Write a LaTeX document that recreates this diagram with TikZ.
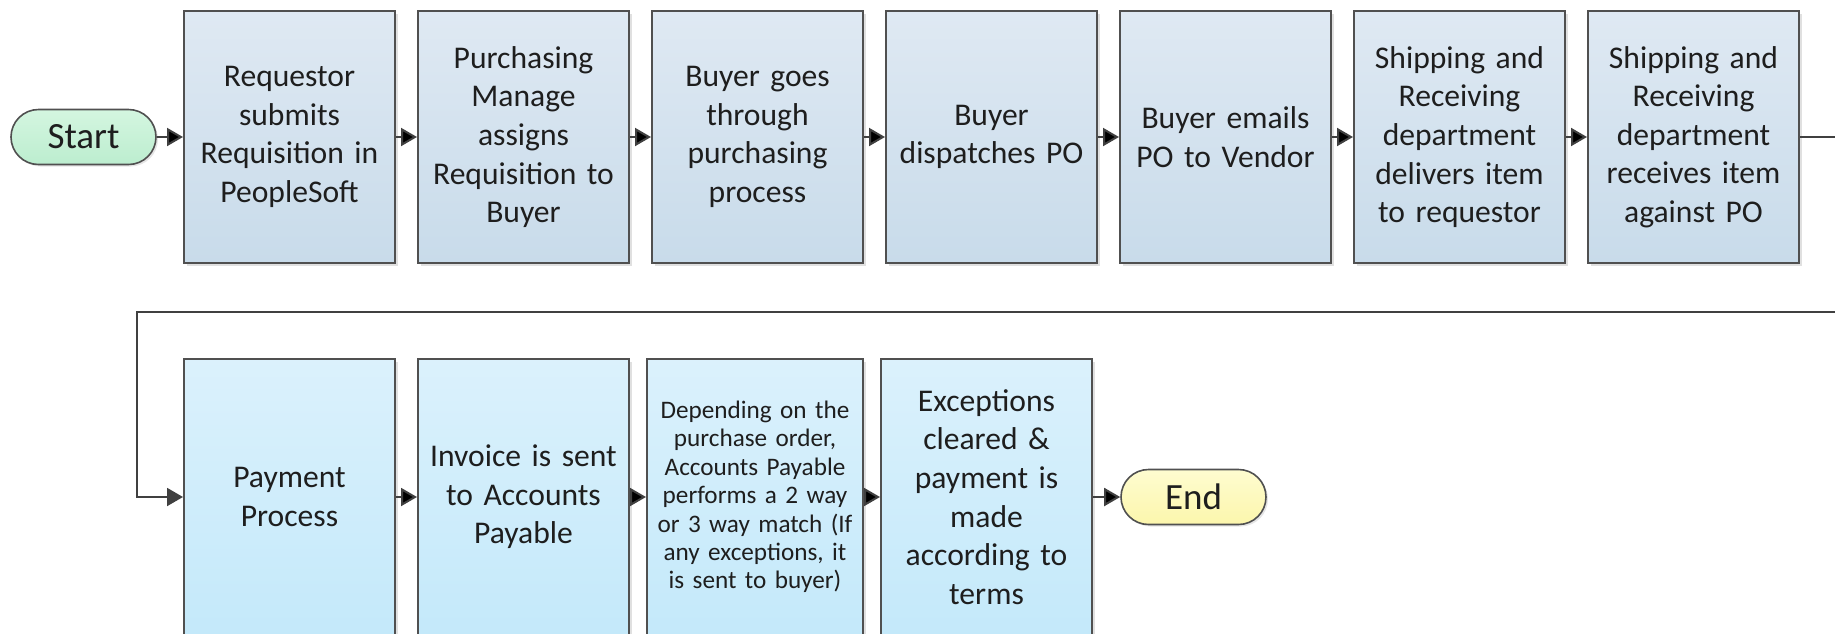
\documentclass[tikz,border=0pt]{standalone}
\usepackage{fontspec}
\setmainfont{Carlito}
\usepackage{xcolor}
\usetikzlibrary{positioning, calc, arrows.meta, shadows}
\definecolor{boxline}{RGB}{80,80,80}
\definecolor{arrowgray}{RGB}{64,64,64}
\definecolor{inkgray}{RGB}{30,30,30}
\definecolor{stepTop}{RGB}{223,233,243}
\definecolor{stepBot}{RGB}{200,219,234}
\definecolor{payTop}{RGB}{219,241,252}
\definecolor{payBot}{RGB}{196,233,250}
\definecolor{startTop}{RGB}{212,246,224}
\definecolor{startBot}{RGB}{188,237,207}
\definecolor{endTop}{RGB}{254,252,208}
\definecolor{endBot}{RGB}{252,246,172}
\tikzset{
    >={Triangle[length=8pt,width=9pt]}, % filled arrow heads
    node distance=117pt, % centre to centre distance of the boxes
    process/.style={draw=boxline, line width=1pt, rectangle, align=center, text=inkgray,
        text width=96pt, minimum width=105.5pt, inner sep=0pt,
        font=\fontsize{15.8}{19.3}\selectfont,
        drop shadow={shadow xshift=1.5pt, shadow yshift=-1.5pt, fill=black, opacity=0.12}},
    upper/.style={process, minimum height=126pt, top color=stepTop, bottom color=stepBot},
    lower/.style={process, minimum height=138pt, top color=payTop, bottom color=payBot},
    terminal/.style={draw=boxline, line width=0.8pt, rectangle, rounded corners=13.75pt,
        minimum width=72.5pt, minimum height=27.5pt, text=inkgray,
        font=\fontsize{18.5}{22}\selectfont,
        drop shadow={shadow xshift=1pt, shadow yshift=-1pt, fill=black, opacity=0.1}},
    link/.style={->, draw=arrowgray, line width=1pt},
}
\begin{document}
\begin{tikzpicture}
    \useasboundingbox (0,0) rectangle (917.5pt,-316.5pt);
    \clip (0,0) rectangle (917.5pt,-316.5pt);

    % first row
    \node[terminal, top color=startTop, bottom color=startBot] (start) at (41.75pt,-68.5pt) {Start};
    \node[upper, node distance=103pt, right of=start] (req) {Requestor\\submits\\Requisition in\\PeopleSoft};
    \node[upper, right of=req] (assign) {Purchasing\\Manage\\assigns\\Requisition to\\Buyer};
    \node[upper, right of=assign] (buy) {Buyer goes\\through\\purchasing\\process};
    \node[upper, right of=buy] (dispatch) {Buyer\\dispatches PO};
    \node[upper, right of=dispatch] (email) {Buyer emails\\PO to Vendor};
    \node[upper, right of=email] (deliver) {Shipping and\\Receiving\\department\\delivers item\\to requestor};
    \node[upper, right of=deliver] (receive) {Shipping and\\Receiving\\department\\receives item\\against PO};

    % second row
    \node[lower] (payment) at (144.75pt,-248.5pt) {Payment\\Process};
    \node[lower, right of=payment] (invoice) {Invoice is sent\\to Accounts\\Payable};
    \node[lower, minimum width=108pt, text width=106pt, font=\fontsize{12.6}{14.2}\selectfont,
        node distance=115.75pt, right of=invoice] (match) {Depending on the\\purchase order,\\Accounts Payable\\performs a 2 way\\or 3 way match (If\\any exceptions, it\\is sent to buyer)};
    \node[lower, node distance=115.75pt, right of=match] (clear) {Exceptions\\cleared \&\\payment is\\made\\according to\\terms};
    \node[terminal, top color=endTop, bottom color=endBot, node distance=103.5pt, right of=clear] (end) {End};

    \coordinate (loopleft) at (68.5pt,-155.75pt);

    \path[link]
        (start) edge (req)
        (req) edge (assign)
        (assign) edge (buy)
        (buy) edge (dispatch)
        (dispatch) edge (email)
        (email) edge (deliver)
        (deliver) edge (receive)
        (payment) edge (invoice)
        (invoice) edge (match)
        (match) edge (clear)
        (clear) edge (end);

    \draw[link] (receive.east) -- ++(30pt,0) |- (loopleft) |- (payment.west);
\end{tikzpicture}
\end{document}
